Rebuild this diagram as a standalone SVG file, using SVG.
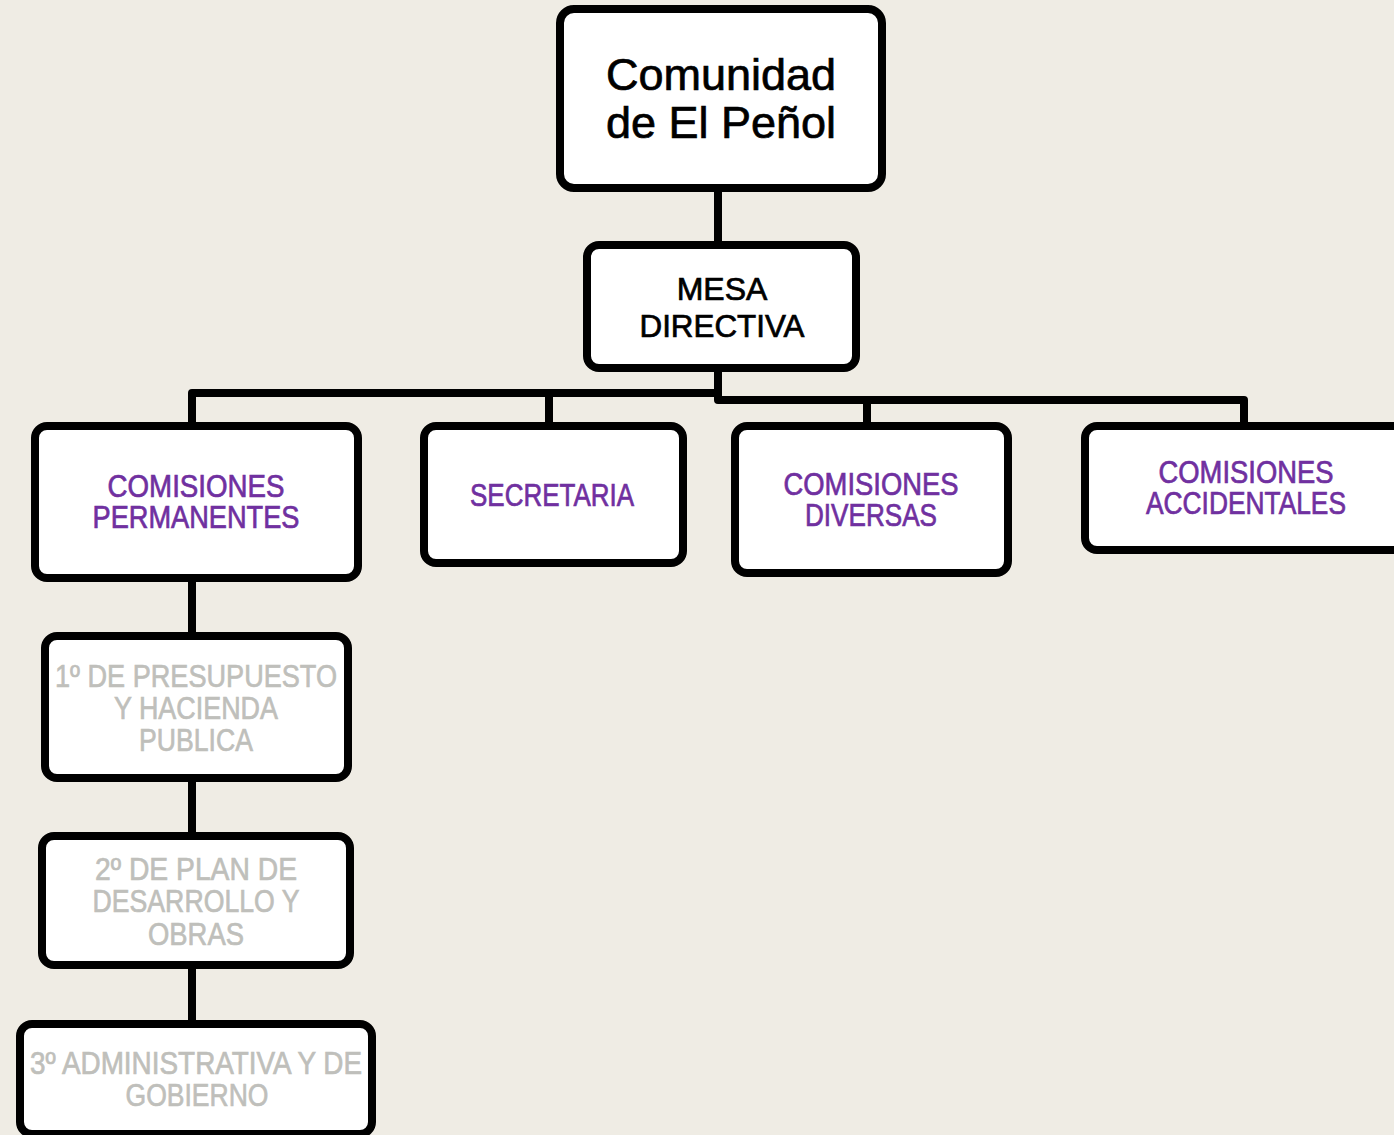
<svg xmlns="http://www.w3.org/2000/svg" width="1394" height="1135" viewBox="0 0 1394 1135">
<style>
.box{fill:#ffffff;stroke:#000000;stroke-width:8}
.conn{fill:none;stroke:#000000;stroke-width:8;stroke-linejoin:round}
.t{font-family:"Liberation Sans","Arial",sans-serif;text-anchor:middle;stroke-width:0.7}
.big{font-size:45px;fill:#000000;stroke:#000000}
.mid{font-size:32px;fill:#000000;stroke:#000000}
.pur{font-size:32px;fill:#7030A0;stroke:#7030A0}
.gry{font-size:32px;fill:#BFBFBB;stroke:#BFBFBB}
</style>
<rect x="0" y="0" width="1394" height="1135" fill="#EFECE4"/>
<g id="connectors">
<path class="conn" d="M718 188 V245"/>
<path class="conn" d="M718 368 V400 H1244 V426"/>
<path class="conn" d="M718 393 H192 V426"/>
<path class="conn" d="M549 393 V426"/>
<path class="conn" d="M867 400 V426"/>
<path class="conn" d="M192 578 V636"/>
<path class="conn" d="M192 778 V836"/>
<path class="conn" d="M192 965 V1024"/>
</g>
<g id="comunidad">
<rect class="box" x="560" y="9" width="322" height="179" rx="14"/>
<text class="t big" x="721" y="90">Comunidad</text>
<text class="t big" x="721" y="138">de El Peñol</text>
</g>
<g id="mesa">
<rect class="box" x="587" y="245" width="269" height="123" rx="12"/>
<text class="t mid" x="722" y="300">MESA</text>
<text class="t mid" x="722" y="337" textLength="165" lengthAdjust="spacingAndGlyphs">DIRECTIVA</text>
</g>
<g id="permanentes">
<rect class="box" x="35" y="426" width="323" height="152" rx="12"/>
<text class="t pur" x="196" y="497" textLength="177" lengthAdjust="spacingAndGlyphs">COMISIONES</text>
<text class="t pur" x="196" y="528" textLength="207" lengthAdjust="spacingAndGlyphs">PERMANENTES</text>
</g>
<g id="secretaria">
<rect class="box" x="424" y="426" width="259" height="137" rx="12"/>
<text class="t pur" x="552" y="506" textLength="164" lengthAdjust="spacingAndGlyphs">SECRETARIA</text>
</g>
<g id="diversas">
<rect class="box" x="735" y="426" width="273" height="147" rx="12"/>
<text class="t pur" x="871" y="495" textLength="175" lengthAdjust="spacingAndGlyphs">COMISIONES</text>
<text class="t pur" x="871" y="526" textLength="132" lengthAdjust="spacingAndGlyphs">DIVERSAS</text>
</g>
<g id="accidentales">
<rect class="box" x="1085" y="426" width="340" height="124" rx="12"/>
<text class="t pur" x="1246" y="483" textLength="175" lengthAdjust="spacingAndGlyphs">COMISIONES</text>
<text class="t pur" x="1246" y="514" textLength="200" lengthAdjust="spacingAndGlyphs">ACCIDENTALES</text>
</g>
<g id="presupuesto">
<rect class="box" x="45" y="636" width="303" height="142" rx="12"/>
<text class="t gry" x="196" y="687" textLength="282" lengthAdjust="spacingAndGlyphs">1º DE PRESUPUESTO</text>
<text class="t gry" x="196" y="719" textLength="164" lengthAdjust="spacingAndGlyphs">Y HACIENDA</text>
<text class="t gry" x="196" y="751" textLength="114" lengthAdjust="spacingAndGlyphs">PUBLICA</text>
</g>
<g id="plan">
<rect class="box" x="42" y="836" width="308" height="129" rx="12"/>
<text class="t gry" x="196" y="880" textLength="202" lengthAdjust="spacingAndGlyphs">2º DE PLAN DE</text>
<text class="t gry" x="196" y="912" textLength="207" lengthAdjust="spacingAndGlyphs">DESARROLLO Y</text>
<text class="t gry" x="196" y="945" textLength="96" lengthAdjust="spacingAndGlyphs">OBRAS</text>
</g>
<g id="administrativa">
<rect class="box" x="20" y="1024" width="352" height="110" rx="12"/>
<text class="t gry" x="196" y="1074" textLength="332" lengthAdjust="spacingAndGlyphs">3º ADMINISTRATIVA Y DE</text>
<text class="t gry" x="197" y="1106" textLength="143" lengthAdjust="spacingAndGlyphs">GOBIERNO</text>
</g>
</svg>
